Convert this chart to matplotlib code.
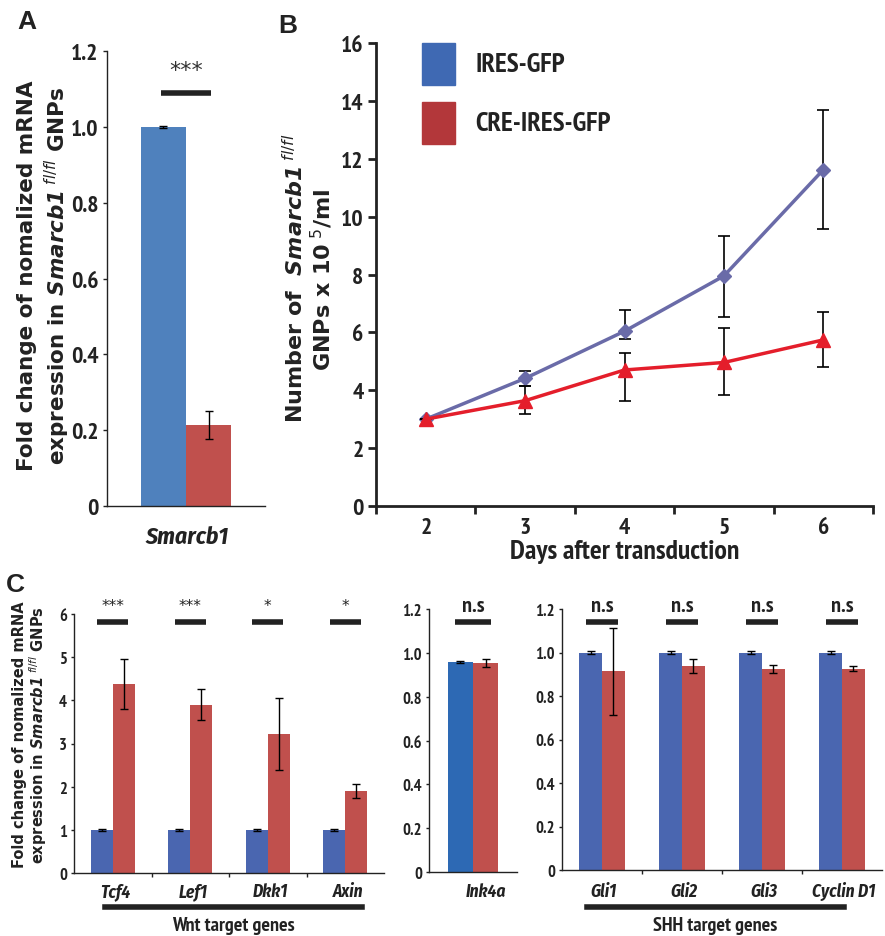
import numpy as np
import matplotlib
matplotlib.use("Agg")
import matplotlib.pyplot as plt

plt.rcParams['mathtext.fontset'] = 'dejavusans'
NARROW = ['PT Sans Narrow', 'DejaVu Sans']
ITAL = ['Fira Sans Condensed', 'DejaVu Sans']
WIDE = ['DejaVu Sans']
INK = '#222222'

# ---- data ----
# A
genes_a = ["Smarcb1"]
ires_a = [1.0]
ires_a_err = [0.002]
cre_a = [0.214]
cre_a_err = [0.036]

# B
days = [2, 3, 4, 5, 6]
ires_b = [3.0, 4.41, 6.04, 7.95, 11.62]
ires_b_lo = [0.0, 0.27, 0.28, 1.43, 2.05]
ires_b_hi = [0.0, 0.25, 0.73, 1.38, 2.06]
cre_b = [3.0, 3.64, 4.70, 4.96, 5.74]
cre_b_lo = [0.0, 0.47, 1.06, 1.11, 0.94]
cre_b_hi = [0.0, 0.50, 0.58, 1.19, 0.97]

# C
wnt_genes = ["Tcf4", "Lef1", "Dkk1", "Axin"]
wnt_ires = [1.0, 1.0, 1.0, 1.0]
wnt_cre = [4.37, 3.90, 3.22, 1.90]
wnt_err = [0.58, 0.36, 0.83, 0.16]
wnt_sig = ["***", "***", "*", "*"]

ink_genes = ["Ink4a"]
ink_ires = [0.957]
ink_cre = [0.954]
ink_err = [0.017]
ink_sig = ["n.s"]

shh_genes = ["Gli1", "Gli2", "Gli3", "Cyclin D1"]
shh_ires = [1.0, 1.0, 1.0, 1.0]
shh_cre = [0.913, 0.937, 0.926, 0.926]
shh_err = [0.20, 0.033, 0.018, 0.012]
shh_sig = ["n.s", "n.s", "n.s", "n.s"]

W, H = 885, 937
fig = plt.figure(figsize=(W / 100, H / 100), dpi=100)


def add_ax(x0, y0, x1, y1):
    return fig.add_axes([x0 / W, 1 - y1 / H, (x1 - x0) / W, (y1 - y0) / H])


def style(ax, lw, ticklen, fs):
    for s in ['top', 'right']:
        ax.spines[s].set_visible(False)
    for s in ['left', 'bottom']:
        ax.spines[s].set_linewidth(lw)
        ax.spines[s].set_color(INK)
    ax.tick_params(direction='out', length=ticklen, width=lw, labelsize=fs, pad=3, color=INK)
    for lab in ax.get_yticklabels():
        lab.set_fontfamily(NARROW)
        lab.set_fontweight('bold')
        lab.set_color(INK)


def sig_font(s):
    # asterisks look larger in the original, n.s is condensed
    return WIDE if '*' in s else NARROW


ebkw = dict(ecolor='black', elinewidth=1.0, capsize=3, capthick=1.0)

# ---- panel A ----
axA = add_ax(107, 52, 265, 507)
w = 0.285
xa = np.arange(len(genes_a))
axA.bar(xa - w / 2, ires_a, w, color='#4F81BD', yerr=ires_a_err, error_kw=ebkw)
axA.bar(xa + w / 2, cre_a, w, color='#C0504D', yerr=cre_a_err, error_kw=ebkw)
axA.set_xlim(-0.5, 0.5)
axA.set_ylim(0, 1.2)
axA.set_yticks([0, 0.2, 0.4, 0.6, 0.8, 1.0, 1.2])
axA.set_yticklabels(['0', '0.2', '0.4', '0.6', '0.8', '1.0', '1.2'])
axA.set_xticks([])
style(axA, 1.0, 3, 17)
axA.plot([-0.16, 0.16], [1.089, 1.089], color=INK, lw=4, solid_capstyle='butt', clip_on=False)
axA.text(0, 1.15, "***", ha='center', va='center', fontsize=16, color='#333333',
         family=sig_font("***"))
fig.text(187 / W, 1 - 537 / H, "Smarcb1", ha='center', va='center', fontsize=17,
         fontweight='bold', style='italic', family=ITAL, color=INK)
fig.text(27 / W, 1 - 276 / H, "Fold change of nomalized mRNA", rotation=90, ha='center', va='center',
         fontsize=15.5, fontweight='bold', family=WIDE, color=INK)
fig.text(57 / W, 1 - 276 / H, r"expression in $\mathbfit{Smarcb1}^{\ \mathit{fl/fl}}$ GNPs", rotation=90,
         ha='center', va='center', fontsize=15.5, fontweight='bold', family=WIDE, color=INK)
fig.text(27 / W, 1 - 22 / H, "A", ha='center', va='center', fontsize=19, fontweight='bold',
         family=['Liberation Sans', 'DejaVu Sans'], color=INK)

# ---- panel B ----
axB = add_ax(376, 44, 873, 507)
axB.errorbar(days, ires_b, yerr=[ires_b_lo, ires_b_hi], color='#6A6BA8', lw=2.5, marker='D',
             markersize=7, ecolor='black', elinewidth=1.2, capsize=4, capthick=1.2, zorder=2)
axB.errorbar(days, cre_b, yerr=[cre_b_lo, cre_b_hi], color='#E41E2B', lw=2.5, marker='^',
             markersize=10, ecolor='black', elinewidth=1.2, capsize=4, capthick=1.2, zorder=3)
axB.set_xlim(1.5, 6.5)
axB.set_ylim(0, 16)
axB.set_yticks(np.arange(0, 17, 2))
axB.set_xticks(np.arange(1.5, 7, 1))
axB.set_xticklabels([])
axB.set_xticks(days, minor=True)
axB.set_xticklabels([str(d) for d in days], minor=True)
style(axB, 2.0, 6, 17)
axB.tick_params(axis='x', which='minor', length=0, labelsize=17, pad=8)
for lab in axB.get_xticklabels(minor=True):
    lab.set_fontfamily(NARROW)
    lab.set_fontweight('bold')
    lab.set_color(INK)
axB.set_xlabel("Days after transduction", fontsize=20, fontweight='bold', family=NARROW,
               color=INK, labelpad=1)
fig.text(295 / W, 1 - 278 / H, r"Number of  $\mathbfit{Smarcb1}^{\ \mathit{fl/fl}}$", rotation=90,
         ha='center', va='center', fontsize=16, fontweight='bold', family=WIDE, color=INK)
fig.text(322 / W, 1 - 280 / H, r"GNPs x 10$^{\ 5}$/ml", rotation=90,
         ha='center', va='center', fontsize=16, fontweight='bold', family=WIDE, color=INK)
fig.text(288 / W, 1 - 26 / H, "B", ha='center', va='center', fontsize=19, fontweight='bold',
         family=['Liberation Sans', 'DejaVu Sans'], color=INK)
# legend squares
leg = [("IRES-GFP", '#3F69B3', 44), ("CRE-IRES-GFP", '#B3373A', 103)]
for name, col, ytop in leg:
    fig.patches.append(plt.Rectangle((422 / W, 1 - (ytop + 42) / H), 33 / W, 42 / H,
                                     transform=fig.transFigure, color=col))
    fig.text(475 / W, 1 - (ytop + 21) / H, name, ha='left', va='center', fontsize=19.5,
             fontweight='bold', family=NARROW, color=INK)

# ---- panel C ----
cblue = '#4A66B0'
cred = '#C0504D'


def grouped(ax, genes, ires, cre, err, sig, ymax, sig_y, txt_y, blue, sigfs):
    x = np.arange(len(genes))
    ax.bar(x - w / 2, ires, w, color=blue, yerr=[0.004 * ymax] * len(genes), error_kw=ebkw)
    ax.bar(x + w / 2, cre, w, color=cred, yerr=err, error_kw=ebkw)
    ax.set_xlim(-0.5, len(genes) - 0.5)
    ax.set_ylim(0, ymax)
    ax.set_xticks(np.arange(0.5, len(genes) - 0.5, 1))
    ax.set_xticklabels([])
    for xi, s in zip(x, sig):
        ax.plot([xi - 0.2, xi + 0.2], [sig_y, sig_y], color=INK, lw=4,
                solid_capstyle='butt', clip_on=False)
        star = '*' in s
        ax.text(xi, txt_y, s, ha='center', va='center', fontsize=11 if star else sigfs,
                fontweight='normal' if star else 'bold', family=sig_font(s), color=INK)
    return x


axC1 = add_ax(74, 615, 384, 874)
grouped(axC1, wnt_genes, wnt_ires, wnt_cre, wnt_err, wnt_sig, 6, 5.81, 6.2, cblue, 15)
axC1.set_yticks(range(7))
style(axC1, 1.0, 2, 12)
axC1.tick_params(axis='x', length=3)

axC2 = add_ax(429, 610, 517, 873)
grouped(axC2, ink_genes, ink_ires, ink_cre, ink_err, ink_sig, 1.2, 1.139, 1.215, '#2D69B4', 16)
axC2.set_yticks([0, 0.2, 0.4, 0.6, 0.8, 1.0, 1.2])
axC2.set_yticklabels(['0', '0.2', '0.4', '0.6', '0.8', '1.0', '1.2'])
style(axC2, 1.0, 2, 12)

axC3 = add_ax(562, 610, 882, 871)
grouped(axC3, shh_genes, shh_ires, shh_cre, shh_err, shh_sig, 1.2, 1.139, 1.215, cblue, 16)
axC3.set_yticks([0, 0.2, 0.4, 0.6, 0.8, 1.0, 1.2])
axC3.set_yticklabels(['0', '0.2', '0.4', '0.6', '0.8', '1.0', '1.2'])
style(axC3, 1.0, 2, 12)
axC3.tick_params(axis='x', length=3)

# gene labels
gkw = dict(ha='center', va='center', fontsize=12.5, fontweight='bold', style='italic',
           family=ITAL, color=INK)
for ax, genes, dx in [(axC1, wnt_genes, 3), (axC2, ink_genes, 13), (axC3, shh_genes, 2)]:
    for i, g in enumerate(genes):
        xd = ax.transData.transform((i, 0))[0]
        fig.text(xd / fig.dpi / fig.get_figwidth() + dx / W, 1 - 892 / H, g, **gkw)

# group bars
for x0, x1, label in [(105, 362, "Wnt target genes"), (587, 844, "SHH target genes")]:
    fig.add_artist(plt.Line2D([x0 / W, x1 / W], [1 - 908 / H, 1 - 908 / H], color=INK, lw=4))
    fig.text((x0 + x1) / 2 / W, 1 - 926 / H, label, ha='center', va='center', fontsize=14.5,
             fontweight='bold', family=NARROW, color=INK)

fig.text(20 / W, 1 - 735 / H, "Fold change of nomalized mRNA", rotation=90, ha='center', va='center',
         fontsize=10.5, fontweight='bold', family=WIDE, color=INK)
fig.text(38 / W, 1 - 735 / H, r"expression in $\mathbfit{Smarcb1}^{\ \mathit{fl/fl}}$ GNPs", rotation=90,
         ha='center', va='center', fontsize=10.5, fontweight='bold', family=WIDE, color=INK)
fig.text(15 / W, 1 - 585 / H, "C", ha='center', va='center', fontsize=19, fontweight='bold',
         family=['Liberation Sans', 'DejaVu Sans'], color=INK)

fig.savefig("out.png", dpi=100)
